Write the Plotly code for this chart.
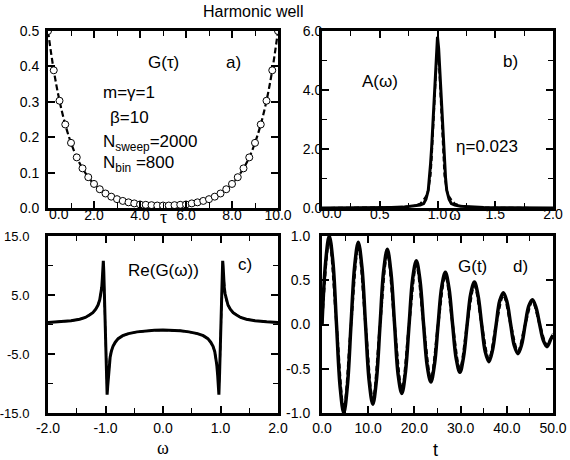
import plotly.graph_objects as go

# ---------------- data ----------------
# a) imaginary-time Green's function G(tau)
tau = [0.0, 0.25, 0.5, 0.75, 1.0, 1.25, 1.5, 1.75, 2.0, 2.25, 2.5, 2.75, 3.0, 3.25,
       3.5, 3.75, 4.0, 4.25, 4.5, 4.75, 5.0, 5.25, 5.5, 5.75, 6.0, 6.25, 6.5, 6.75,
       7.0, 7.25, 7.5, 7.75, 8.0, 8.25, 8.5, 8.75, 9.0, 9.25, 9.5, 9.75, 10.0]
g_tau = [0.500, 0.389, 0.303, 0.236, 0.184, 0.143, 0.112, 0.087, 0.068, 0.053, 0.041,
         0.032, 0.025, 0.020, 0.016, 0.013, 0.010, 0.009, 0.008, 0.007, 0.007,
         0.007, 0.008, 0.009, 0.010, 0.013, 0.016, 0.020, 0.025, 0.032, 0.041,
         0.053, 0.068, 0.087, 0.112, 0.143, 0.184, 0.236, 0.303, 0.389, 0.500]

# b) spectral function A(omega)
w_a = [0.0, 0.2, 0.4, 0.6, 0.7, 0.8, 0.85, 0.88, 0.9, 0.92, 0.93, 0.94, 0.95, 0.96,
       0.97, 0.98, 0.99, 1.0, 1.01, 1.02, 1.03, 1.04, 1.05, 1.06, 1.07, 1.08, 1.1,
       1.12, 1.15, 1.2, 1.3, 1.4, 1.6, 1.8, 2.0]
a_solid = [0.0, 0.0, 0.01, 0.02, 0.03, 0.06, 0.1, 0.15, 0.3, 0.6, 1.0, 1.5, 2.1, 2.9,
           3.7, 4.6, 5.4, 5.8, 5.4, 4.6, 3.7, 2.9, 2.1, 1.5, 1.0, 0.6, 0.3,
           0.15, 0.1, 0.06, 0.03, 0.02, 0.01, 0.0, 0.0]
w_a_dash = [0.0, 0.5, 0.7, 0.8, 0.85, 0.88, 0.9, 0.92, 0.94, 0.95, 0.96, 0.97, 0.98,
            0.99, 1.0, 1.01, 1.02, 1.03, 1.04, 1.05, 1.06, 1.08, 1.1, 1.12, 1.15,
            1.2, 1.3, 1.5, 2.0]
a_dash = [0.0, 0.01, 0.03, 0.08, 0.15, 0.28, 0.4, 0.6, 1.1, 1.7, 2.5, 3.4, 4.3,
          5.1, 5.6, 5.1, 4.3, 3.4, 2.5, 1.7, 1.1, 0.6, 0.4, 0.28, 0.15,
          0.08, 0.03, 0.01, 0.0]

# c) real part of G(omega)
w_c = [-2.0, -1.8, -1.6, -1.45, -1.35, -1.28, -1.22, -1.17, -1.13, -1.10, -1.08,
       -1.065, -1.055, -1.045, -1.038, -1.03, -1.015, -1.0, -0.985, -0.972, -0.962,
       -0.95, -0.935, -0.92, -0.90, -0.87, -0.83, -0.78, -0.70, -0.60, -0.45, -0.30,
       -0.15, 0.0, 0.15, 0.30, 0.45, 0.60, 0.70, 0.78, 0.83, 0.87, 0.90, 0.92, 0.935,
       0.95, 0.962, 0.972, 0.985, 1.0, 1.015, 1.03, 1.038, 1.045, 1.055, 1.065, 1.08,
       1.10, 1.13, 1.17, 1.22, 1.28, 1.35, 1.45, 1.6, 1.8, 2.0]
re_g_solid = [0.33, 0.45, 0.64, 0.90, 1.2, 1.6, 2.0, 2.6, 3.3, 4.2, 5.2,
              6.3, 7.8, 10.0, 10.8, 9.0, 3.0, -2.0, -8.0, -11.9, -10.5,
              -8.5, -6.8, -5.6, -4.6, -3.7, -3.0, -2.4, -1.9, -1.55, -1.25, -1.08,
              -0.98, -0.95, -0.98, -1.08, -1.25, -1.55, -1.9, -2.4, -3.0, -3.7, -4.6,
              -5.6, -6.8, -8.5, -10.5, -11.9, -8.0, -2.0, 3.0, 9.0, 10.8, 10.0, 7.8,
              6.3, 5.2, 4.2, 3.3, 2.6, 2.0, 1.6, 1.2, 0.90, 0.64, 0.45, 0.33]
re_g_dash = [0.33, 0.45, 0.64, 0.90, 1.2, 1.6, 2.0, 2.6, 3.3, 4.2, 5.1,
             6.1, 7.4, 9.2, 9.6, 8.0, 2.5, -2.5, -8.0, -10.8, -9.8,
             -8.2, -6.7, -5.5, -4.6, -3.7, -3.0, -2.4, -1.9, -1.55, -1.25, -1.08,
             -0.98, -0.95, -0.98, -1.08, -1.25, -1.55, -1.9, -2.4, -3.0, -3.7, -4.6,
             -5.5, -6.7, -8.2, -9.8, -10.8, -8.0, -2.5, 2.5, 8.0, 9.6, 9.2, 7.4,
             6.1, 5.1, 4.2, 3.3, 2.6, 2.0, 1.6, 1.2, 0.90, 0.64, 0.45, 0.33]

# d) real-time Green's function G(t)
t_solid = [0.0, 0.79, 1.57, 2.36, 3.14, 3.93, 4.71, 5.50, 6.28, 7.07, 7.85, 8.64,
           9.42, 10.21, 11.00, 11.78, 12.57, 13.35, 14.14, 14.92, 15.71, 16.49,
           17.28, 18.06, 18.85, 19.63, 20.42, 21.21, 21.99, 22.78, 23.56, 24.35,
           25.13, 25.92, 26.70, 27.49, 28.27, 29.06, 29.85, 30.63, 31.42, 32.20,
           32.99, 33.77, 34.56, 35.34, 36.13, 36.91, 37.70, 38.48, 39.27, 40.06,
           40.84, 41.63, 42.41, 43.20, 43.98, 44.77, 45.55, 46.34, 47.12, 47.91,
           48.69, 49.48, 50.0]
g_t_solid = [0.0, 0.71, 1.00, 0.71, 0.0, -0.71, -1.00, -0.69, 0.0, 0.66, 0.93, 0.65,
             0.0, -0.64, -0.90, -0.63, 0.0, 0.61, 0.85, 0.59, 0.0, -0.57,
             -0.78, -0.54, 0.0, 0.52, 0.72, 0.50, 0.0, -0.47, -0.65, -0.45,
             0.0, 0.43, 0.59, 0.41, 0.0, -0.39, -0.54, -0.37, 0.0, 0.35,
             0.48, 0.33, 0.0, -0.31, -0.42, -0.29, 0.0, 0.27, 0.36, 0.25,
             0.0, -0.24, -0.33, -0.23, 0.0, 0.21, 0.28, 0.19, 0.0, -0.18,
             -0.25, -0.17, -0.12]
t_dash = [0.0, 1.571, 3.142, 4.712, 6.283, 7.854, 9.425, 10.996, 12.566, 14.137,
          15.708, 17.279, 18.850, 20.420, 21.991, 23.562, 25.133, 26.704, 28.274,
          29.845, 31.416, 32.987, 34.558, 36.128, 37.699, 39.270, 40.841, 42.412,
          43.982, 45.553, 47.124, 48.695, 50.0]
g_t_dash = [0.0, 0.95, 0.0, -0.95, 0.0, 0.88, 0.0, -0.85, 0.0, 0.80, 0.0, -0.73,
            0.0, 0.67, 0.0, -0.61, 0.0, 0.55, 0.0, -0.50, 0.0, 0.44, 0.0, -0.39,
            0.0, 0.33, 0.0, -0.30, 0.0, 0.26, 0.0, -0.23, -0.10]

# tick positions and labels; the corner "0.0" of the top row is written
# separately, nudged right so it clears the y-axis label
a_xt = [0, 2, 4, 6, 8, 10]
a_xl = ["", "2.0", "4.0", "6.0", "8.0", "10.0"]
a_yt = [0, 0.1, 0.2, 0.3, 0.4, 0.5]
a_yl = ["0.0", "0.1", "0.2", "0.3", "0.4", "0.5"]
b_xt = [0, 0.5, 1.0, 1.5, 2.0]
b_xl = ["", "0.5", "1.0", "1.5", "2.0"]
b_yt = [0, 2, 4, 6]
b_yl = ["0.0", "2.0", "4.0", "6.0"]
c_xt = [-2, -1, 0, 1, 2]
c_xl = ["-2.0", "-1.0", "0.0", "1.0", "2.0"]
c_yt = [-15, -5, 5, 15]
c_yl = ["-15.0", "-5.0", "5.0", "15.0"]
d_xt = [0, 10, 20, 30, 40, 50]
d_xl = ["0.0", "10.0", "20.0", "30.0", "40.0", "50.0"]
d_yt = [-1.0, -0.5, 0.0, 0.5, 1.0]
d_yl = ["-1.0", "-0.5", "0.0", "0.5", "1.0"]
corner_label = "0.0"

# ---------------- figure ----------------
W, H = 570, 460
SANS = "Liberation Sans, Arial, sans-serif"
SERIF = "Liberation Serif, Times New Roman, serif"
BLACK = "#000000"

fig = go.Figure()

# a)
fig.add_trace(go.Scatter(x=tau, y=g_tau, mode="lines", xaxis="x", yaxis="y",
                         line=dict(color=BLACK, width=2.2, dash="6px,3px", shape="spline")))
fig.add_trace(go.Scatter(x=tau, y=g_tau, mode="markers", xaxis="x", yaxis="y",
                         marker=dict(symbol="circle", size=7, color="white",
                                     line=dict(color=BLACK, width=1))))
# b)
fig.add_trace(go.Scatter(x=w_a, y=a_solid, mode="lines", xaxis="x2", yaxis="y2",
                         line=dict(color=BLACK, width=3)))
fig.add_trace(go.Scatter(x=w_a_dash, y=a_dash, mode="lines", xaxis="x2", yaxis="y2",
                         line=dict(color=BLACK, width=2, dash="5px,3px")))
# c)
fig.add_trace(go.Scatter(x=w_c, y=re_g_solid, mode="lines", xaxis="x3", yaxis="y3",
                         line=dict(color=BLACK, width=3)))
fig.add_trace(go.Scatter(x=w_c, y=re_g_dash, mode="lines", xaxis="x3", yaxis="y3",
                         line=dict(color=BLACK, width=2, dash="5px,3px")))
# d)
fig.add_trace(go.Scatter(x=t_solid, y=g_t_solid, mode="lines", xaxis="x4", yaxis="y4",
                         line=dict(color=BLACK, width=3.5, shape="spline")))
fig.add_trace(go.Scatter(x=t_dash, y=g_t_dash, mode="lines", xaxis="x4", yaxis="y4",
                         line=dict(color=BLACK, width=2.5, dash="5px,3px", shape="spline")))


def dom_x(x0, x1):
    return [x0 / W, x1 / W]


def dom_y(y_top, y_bot):
    return [1 - y_bot / H, 1 - y_top / H]


def axis(domain, rng, tv, tt, minor_dtick=None, anchor=None, standoff=0, fsize=14):
    d = dict(domain=domain, range=rng, tickmode="array", tickvals=tv, ticktext=tt,
             ticks="inside", ticklen=7, tickwidth=1.5, tickcolor=BLACK,
             showline=True, linewidth=3, linecolor=BLACK, mirror="ticks",
             showgrid=False, zeroline=False, anchor=anchor, automargin=False,
             ticklabelstandoff=standoff,
             tickfont=dict(family=SANS, size=fsize, color=BLACK))
    if minor_dtick is not None:
        d["minor"] = dict(tickmode="linear", tick0=rng[0], dtick=minor_dtick,
                          ticks="inside", ticklen=5, tickwidth=1.3, tickcolor=BLACK,
                          showgrid=False)
    return d


TOP = (31, 208)
BOT = (236, 413)
LEFT = (48, 278)
RIGHT = (322, 553)

fig.update_layout(
    template="none",
    width=W, height=H,
    margin=dict(l=0, r=0, t=0, b=0, autoexpand=False),
    paper_bgcolor="white", plot_bgcolor="white",
    showlegend=False,
    xaxis=axis(dom_x(*LEFT), [0, 10], a_xt, a_xl, 1, "y", -8),
    yaxis=axis(dom_y(*TOP), [0, 0.5], a_yt, a_yl, None, "x", 3),
    xaxis2=axis(dom_x(*RIGHT), [0, 2], b_xt, b_xl, 0.25, "y2", -9),
    yaxis2=axis(dom_y(*TOP), [0, 6], b_yt, b_yl, 1, "x2", -6),
    xaxis3=axis(dom_x(*LEFT), [-2, 2], c_xt, c_xl, 0.5, "y3", 0),
    yaxis3=axis(dom_y(*BOT), [-15, 15], c_yt, c_yl, 5, "x3", 13, 13),
    xaxis4=axis(dom_x(*RIGHT), [0, 50], d_xt, d_xl, 5, "y4", 0),
    yaxis4=axis(dom_y(*BOT), [-1, 1], d_yt, d_yl, None, "x4", 6),
)

TXT = dict(family=SANS, size=17, color=BLACK)


def note(text, x, y, xref, yref, xanchor="center", font=TXT):
    fig.add_annotation(text=text, x=x, y=y, xref=xref, yref=yref, showarrow=False,
                       xanchor=xanchor, yanchor="middle", font=font)


# corner x labels of the top row
TICKF = dict(family=SANS, size=14, color=BLACK)
note(corner_label, 59 / W, 1 - 214 / H, "paper", "paper", font=TICKF)
note(corner_label, 332 / W, 1 - 213 / H, "paper", "paper", font=TICKF)

# panel labels and captions
note("G(τ)", 5.0, 0.41, "x", "y")
note("a)", 8.05, 0.41, "x", "y")
note("m=γ=1", 2.3, 0.325, "x", "y", "left")
note("β=10", 2.6, 0.257, "x", "y", "left")
note("N<sub>sweep</sub>=2000", 2.3, 0.184, "x", "y", "left")
note("N<sub>bin</sub> =800", 2.3, 0.124, "x", "y", "left")

note("A(ω)", 0.50, 4.3, "x2", "y2")
note("b)", 1.63, 4.98, "x2", "y2")
note("η=0.023", 1.43, 2.1, "x2", "y2")

note("Re(G(ω))", 0.0, 9.2, "x3", "y3")
note("c)", 1.43, 10.1, "x3", "y3")

note("G(t)", 32.6, 0.65, "x4", "y4")
note("d)", 43.0, 0.65, "x4", "y4")

# axis symbols and title
AX = dict(family=SERIF, size=18, color=BLACK)
note("τ", 163 / W, 1 - 217 / H, "paper", "paper", font=AX)
note("ω", 455 / W, 1 - 214 / H, "paper", "paper", font=AX)
note("ω", 163 / W, 1 - 448 / H, "paper", "paper", font=AX)
note("t", 435 / W, 1 - 450 / H, "paper", "paper", font=dict(family=SANS, size=18, color=BLACK))
note("Harmonic well", 253 / W, 1 - 12 / H, "paper", "paper",
     font=dict(family=SANS, size=16, color=BLACK))

fig.write_html("out.html")
